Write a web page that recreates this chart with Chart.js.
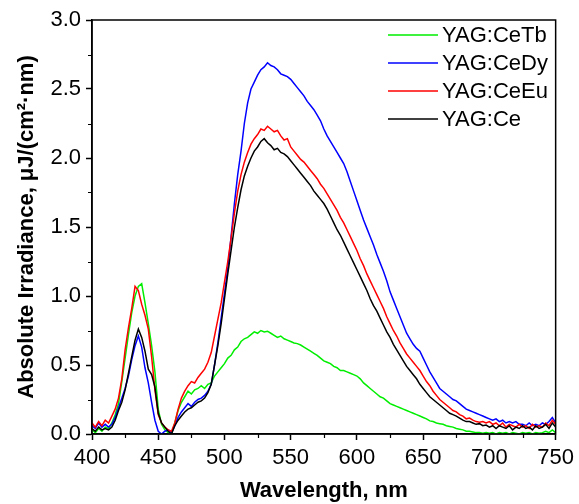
<!DOCTYPE html>
<html>
<head>
<meta charset="utf-8">
<script src="https://cdn.jsdelivr.net/npm/chart.js@4/dist/chart.umd.min.js"></script>
<style>
html,body{margin:0;padding:0;background:#fff;}
#wrap{width:579px;height:504px;position:relative;}
</style>
</head>
<body>
<div id="wrap"><canvas id="c" width="579" height="504"></canvas></div>
<script>
// Wavelength grid (nm), 2.5 nm step from 400 to 750
const wavelengths = [];
for (let w = 400; w <= 750; w += 2.5) wavelengths.push(w);

const seriesLabels = ['YAG:CeTb', 'YAG:CeDy', 'YAG:CeEu', 'YAG:Ce'];
const seriesColors = ['#00ee00', '#0000ff', '#ff0000', '#000000'];

const ceTb = [
  0.03, 0.01, 0.04, 0.02, 0.05, 0.04, 0.08, 0.14, 0.22, 0.38,
  0.55, 0.72, 0.88, 1.00, 1.07, 1.09, 0.95, 0.80, 0.64, 0.45,
  0.18, 0.07, 0.03, 0.01, 0.00, 0.08, 0.17, 0.23, 0.27, 0.31,
  0.29, 0.32, 0.33, 0.35, 0.33, 0.36, 0.37, 0.42, 0.45, 0.48,
  0.51, 0.55, 0.57, 0.61, 0.63, 0.67, 0.69, 0.70, 0.72, 0.74,
  0.73, 0.75, 0.74, 0.745, 0.73, 0.715, 0.70, 0.71, 0.69, 0.68,
  0.67, 0.66, 0.655, 0.645, 0.63, 0.615, 0.60, 0.585, 0.57, 0.55,
  0.53, 0.52, 0.51, 0.49, 0.48, 0.46, 0.46, 0.45, 0.44, 0.43,
  0.42, 0.40, 0.37, 0.35, 0.33, 0.31, 0.29, 0.27, 0.26, 0.24,
  0.22, 0.21, 0.20, 0.19, 0.18, 0.17, 0.16, 0.15, 0.14, 0.13,
  0.12, 0.11, 0.095, 0.09, 0.08, 0.075, 0.07, 0.06, 0.055, 0.05,
  0.04, 0.035, 0.03, 0.02, 0.02, 0.015, 0.01, 0.01, 0.005, 0.01,
  0.005, 0.01, 0.0, 0.01, 0.005, 0.01, 0.0, 0.01, 0.005, 0.0,
  0.01, 0.005, 0.01, 0.0, 0.01, 0.005, 0.01, 0.02, 0.01, 0.03,
  0.01
];

const ceDy = [
  0.06, 0.04, 0.08, 0.05, 0.07, 0.05, 0.07, 0.12, 0.19, 0.26,
  0.33, 0.42, 0.54, 0.64, 0.71, 0.63, 0.48, 0.37, 0.23, 0.10,
  0.02, 0.00, 0.02, 0.03, 0.01, 0.06, 0.12, 0.16, 0.19, 0.22,
  0.20, 0.23, 0.25, 0.26, 0.28, 0.31, 0.36, 0.50, 0.66, 0.84,
  1.02, 1.20, 1.43, 1.67, 1.88, 2.05, 2.25, 2.40, 2.50, 2.55,
  2.60, 2.64, 2.66, 2.69, 2.67, 2.66, 2.64, 2.61, 2.60, 2.59,
  2.57, 2.54, 2.51, 2.48, 2.45, 2.41, 2.38, 2.35, 2.31, 2.27,
  2.21, 2.16, 2.12, 2.08, 2.04, 2.00, 1.96, 1.90, 1.83, 1.76,
  1.69, 1.62, 1.55, 1.49, 1.43, 1.37, 1.30, 1.24, 1.18, 1.11,
  1.03, 0.97, 0.91, 0.85, 0.79, 0.73, 0.69, 0.65, 0.62, 0.60,
  0.55, 0.50, 0.45, 0.41, 0.37, 0.33, 0.31, 0.29, 0.27, 0.25,
  0.24, 0.22, 0.20, 0.18, 0.17, 0.16, 0.15, 0.14, 0.13, 0.12,
  0.11, 0.10, 0.11, 0.09, 0.10, 0.08, 0.09, 0.08, 0.09, 0.07,
  0.07, 0.06, 0.08, 0.06, 0.07, 0.06, 0.08, 0.07, 0.09, 0.12,
  0.08
];

const ceEu = [
  0.08, 0.05, 0.09, 0.06, 0.10, 0.08, 0.13, 0.18, 0.26, 0.40,
  0.61, 0.77, 0.91, 1.07, 1.04, 0.94, 0.86, 0.76, 0.56, 0.32,
  0.14, 0.08, 0.05, 0.03, 0.02, 0.08, 0.18, 0.26, 0.31, 0.35,
  0.38, 0.37, 0.41, 0.44, 0.47, 0.52, 0.59, 0.71, 0.83, 0.95,
  1.10, 1.25, 1.42, 1.60, 1.76, 1.88, 1.97, 2.04, 2.10, 2.14,
  2.17, 2.21, 2.20, 2.23, 2.21, 2.19, 2.20, 2.16, 2.13, 2.14,
  2.08, 2.05, 2.02, 1.99, 1.97, 1.94, 1.91, 1.88, 1.85, 1.81,
  1.78, 1.74, 1.70, 1.66, 1.62, 1.57, 1.53, 1.48, 1.43, 1.38,
  1.33, 1.27, 1.22, 1.16, 1.11, 1.06, 1.01, 0.96, 0.91, 0.85,
  0.80, 0.75, 0.71, 0.66, 0.62, 0.58, 0.55, 0.52, 0.49, 0.46,
  0.42, 0.38, 0.35, 0.31, 0.28, 0.25, 0.23, 0.21, 0.19, 0.17,
  0.16, 0.14, 0.13, 0.11, 0.115, 0.10, 0.09, 0.085, 0.09, 0.08,
  0.09, 0.07, 0.08, 0.06, 0.08, 0.05, 0.07, 0.06, 0.05, 0.07,
  0.05, 0.06, 0.04, 0.07, 0.05, 0.06, 0.05, 0.08, 0.06, 0.10,
  0.07
];

const ce = [
  0.04, 0.02, 0.05, 0.03, 0.04, 0.03, 0.05, 0.10, 0.17, 0.23,
  0.32, 0.44, 0.56, 0.68, 0.76, 0.70, 0.60, 0.47, 0.43, 0.34,
  0.15, 0.08, 0.05, 0.02, 0.00, 0.06, 0.10, 0.13, 0.16, 0.18,
  0.19, 0.21, 0.23, 0.24, 0.26, 0.30, 0.36, 0.50, 0.64, 0.80,
  0.98, 1.16, 1.33, 1.50, 1.64, 1.77, 1.87, 1.94, 2.00, 2.05,
  2.08, 2.12, 2.14, 2.11, 2.09, 2.06, 2.07, 2.04, 2.03, 2.01,
  1.98, 1.95, 1.92, 1.89, 1.86, 1.83, 1.80, 1.76, 1.73, 1.70,
  1.67, 1.63, 1.58, 1.53, 1.48, 1.44, 1.39, 1.34, 1.29, 1.24,
  1.19, 1.14, 1.09, 1.04, 0.98, 0.93, 0.89, 0.84, 0.79, 0.74,
  0.70, 0.65, 0.61, 0.57, 0.53, 0.49, 0.46, 0.43, 0.40, 0.36,
  0.33, 0.30, 0.27, 0.25, 0.23, 0.21, 0.19, 0.17, 0.15, 0.14,
  0.13, 0.115, 0.10, 0.09, 0.09, 0.08, 0.07, 0.075, 0.06, 0.065,
  0.05, 0.06, 0.04, 0.06, 0.05, 0.04, 0.06, 0.03, 0.05, 0.04,
  0.06, 0.04, 0.05, 0.03, 0.06, 0.04, 0.05, 0.07, 0.04, 0.08,
  0.05
];

const xTicks = [400, 450, 500, 550, 600, 650, 700, 750];
const yTicks = [0.0, 0.5, 1.0, 1.5, 2.0, 2.5, 3.0];
const xMinorTicks = [425, 475, 525, 575, 625, 675, 725];
const yMinorTicks = [0.25, 0.75, 1.25, 1.75, 2.25, 2.75];

const seriesValues = [ceTb, ceDy, ceEu, ce];
const drawOrder = [4, 3, 2, 1];

const FONT = "'Liberation Sans', Arial, sans-serif";

const datasets = seriesValues.map((vals, i) => ({
  label: seriesLabels[i],
  data: vals.map((v, j) => ({x: wavelengths[j], y: v})),
  borderColor: seriesColors[i],
  backgroundColor: seriesColors[i],
  borderWidth: 1.5,
  pointRadius: 0,
  tension: 0,
  fill: false,
  order: drawOrder[i]
}));

const framePlugin = {
  id: 'frame',
  afterDatasetsDraw(chart) {
    const {ctx, chartArea: a, scales: {x, y}} = chart;
    ctx.save();
    ctx.strokeStyle = '#000';
    ctx.lineWidth = 1.5;
    ctx.strokeRect(a.left, a.top, a.right - a.left, a.bottom - a.top);
    // minor ticks
    ctx.lineWidth = 1.2;
    ctx.beginPath();
    yMinorTicks.forEach(v => {
      const py = Math.round(y.getPixelForValue(v)) + 0.5;
      ctx.moveTo(a.left - 4, py); ctx.lineTo(a.left, py);
    });
    xMinorTicks.forEach(v => {
      const px = Math.round(x.getPixelForValue(v)) + 0.5;
      ctx.moveTo(px, a.bottom); ctx.lineTo(px, a.bottom + 4);
    });
    ctx.stroke();
    // legend
    ctx.font = '22px ' + FONT;
    ctx.textBaseline = 'middle';
    ctx.textAlign = 'left';
    chart.data.datasets.forEach((ds, i) => {
      const ly = 35 + i * 28;
      ctx.strokeStyle = ds.borderColor;
      ctx.lineWidth = 1.5;
      ctx.beginPath();
      ctx.moveTo(388, ly); ctx.lineTo(438, ly);
      ctx.stroke();
      ctx.fillStyle = '#000';
      ctx.fillText(ds.label, 442, ly + 1);
    });
    ctx.restore();
  }
};

new Chart(document.getElementById('c'), {
  type: 'line',
  data: {datasets},
  plugins: [framePlugin],
  options: {
    responsive: false,
    animation: false,
    layout: {padding: {left: 0, top: 20, right: 19, bottom: 0}},
    plugins: {legend: {display: false}, tooltip: {enabled: false}},
    scales: {
      x: {
        type: 'linear',
        min: 400, max: 750,
        afterBuildTicks: s => { s.ticks = xTicks.map(v => ({value: v})); },
        afterFit: s => { s.height = 70; },
        ticks: {color: '#000', font: {family: FONT, size: 22}, padding: 5, maxRotation: 0},
        grid: {drawOnChartArea: false, drawTicks: true, tickLength: 6, tickColor: '#000', tickWidth: 1.5},
        border: {display: true, color: '#000', width: 1.5},
        title: {display: true, text: 'Wavelength, nm', color: '#000', font: {family: FONT, size: 22, weight: 'bold'}, padding: {top: 0, bottom: 0}}
      },
      y: {
        type: 'linear',
        min: 0, max: 3,
        afterBuildTicks: s => { s.ticks = yTicks.map(v => ({value: v})); },
        afterFit: s => { s.width = 92; },
        ticks: {color: '#000', font: {family: FONT, size: 22}, padding: 5, callback: v => Number(v).toFixed(1)},
        grid: {drawOnChartArea: false, drawTicks: true, tickLength: 6, tickColor: '#000', tickWidth: 1.5},
        border: {display: true, color: '#000', width: 1.5},
        title: {display: true, text: 'Absolute Irradiance, μJ/(cm²·nm)', color: '#000', font: {family: FONT, size: 22, weight: 'bold'}, padding: {top: 14, bottom: 0}}
      }
    }
  }
});
</script>
</body>
</html>
